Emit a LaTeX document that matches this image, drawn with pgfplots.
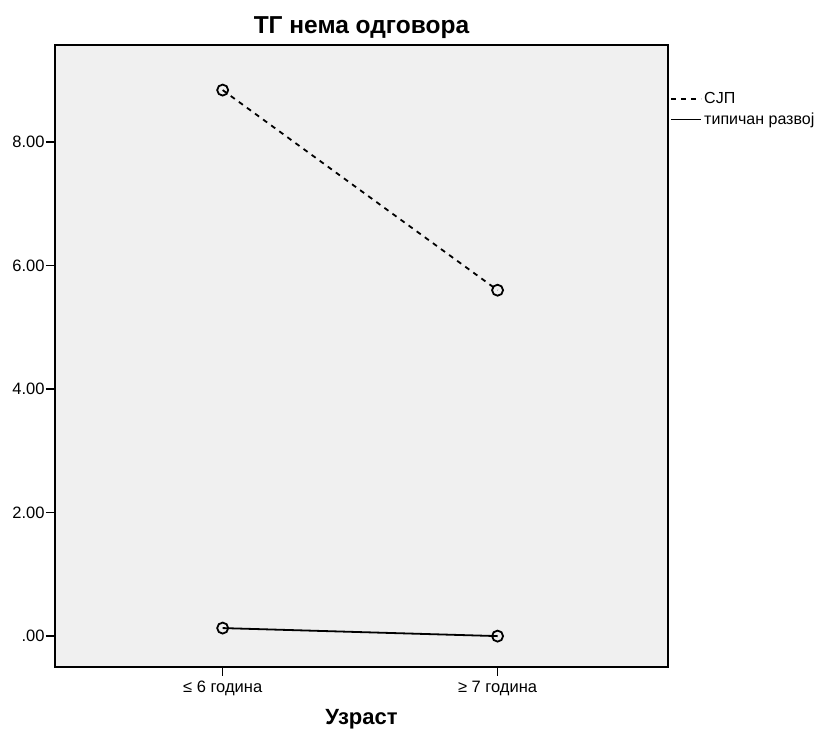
\documentclass[border=0pt]{standalone}
\usepackage{fontspec}
\setmainfont{Liberation Sans}
\usepackage{pgfplots}
\pgfplotsset{compat=1.18}
\definecolor{bggray}{RGB}{240,240,240}
\begin{document}
\begin{tikzpicture}
\begin{axis}[
  scale only axis,
  width=613pt, height=622pt,
  xmin=-0.61, xmax=1.62,
  ymin=-0.5, ymax=9.57,
  xtick={0,1},
  xticklabels={≤ 6 година, ≥ 7 година},
  ytick={0,2,4,6,8},
  yticklabels={.00,2.00,4.00,6.00,8.00},
  xtick pos=bottom, ytick pos=left,
  tick align=outside,
  major tick length=9pt,
  every tick/.style={black, line width=1.5pt},
  axis line style={line width=1.8pt},
  axis background/.style={fill=bggray},
  tick label style={font=\fontsize{16.5}{18}\selectfont},
  yticklabel style={xshift=2pt},
  xticklabel style={yshift=-1pt, text height=12pt, text depth=3pt},
  title={\textbf{ТГ нема одговора}},
  title style={font=\fontsize{24.5}{27}\selectfont, yshift=-3pt},
  xlabel={\textbf{Узраст}},
  xlabel style={font=\fontsize{22}{24}\selectfont, yshift=-7pt},
  clip=false,
  legend style={at={(1.002,0.93)}, anchor=north west, draw=none, fill=none,
    font=\fontsize{16}{18}\selectfont, row sep=3.5pt, inner xsep=1pt},
  legend cell align=left,
  legend image code/.code={\draw[#1, mark=none] (0pt,0pt) -- (30pt,0pt);},
]
\addplot[black, line width=1.8pt, dash pattern=on 5pt off 5pt, mark=o, mark size=5.5pt, mark options={solid, line width=1.8pt}]
  coordinates {(0,8.84) (1,5.60)};
\addlegendentry{СЈП}
\addplot[black, line width=1.8pt, mark=o, mark size=5.5pt, mark options={solid, line width=1.8pt}]
  coordinates {(0,0.13) (1,0.0)};
\addlegendentry{типичан развој}
\end{axis}
\pgfresetboundingbox
\path[use as bounding box] ([xshift=-55pt,yshift=-66pt]current axis.south west) rectangle ([xshift=155pt,yshift=45pt]current axis.north east);
\end{tikzpicture}
\end{document}
